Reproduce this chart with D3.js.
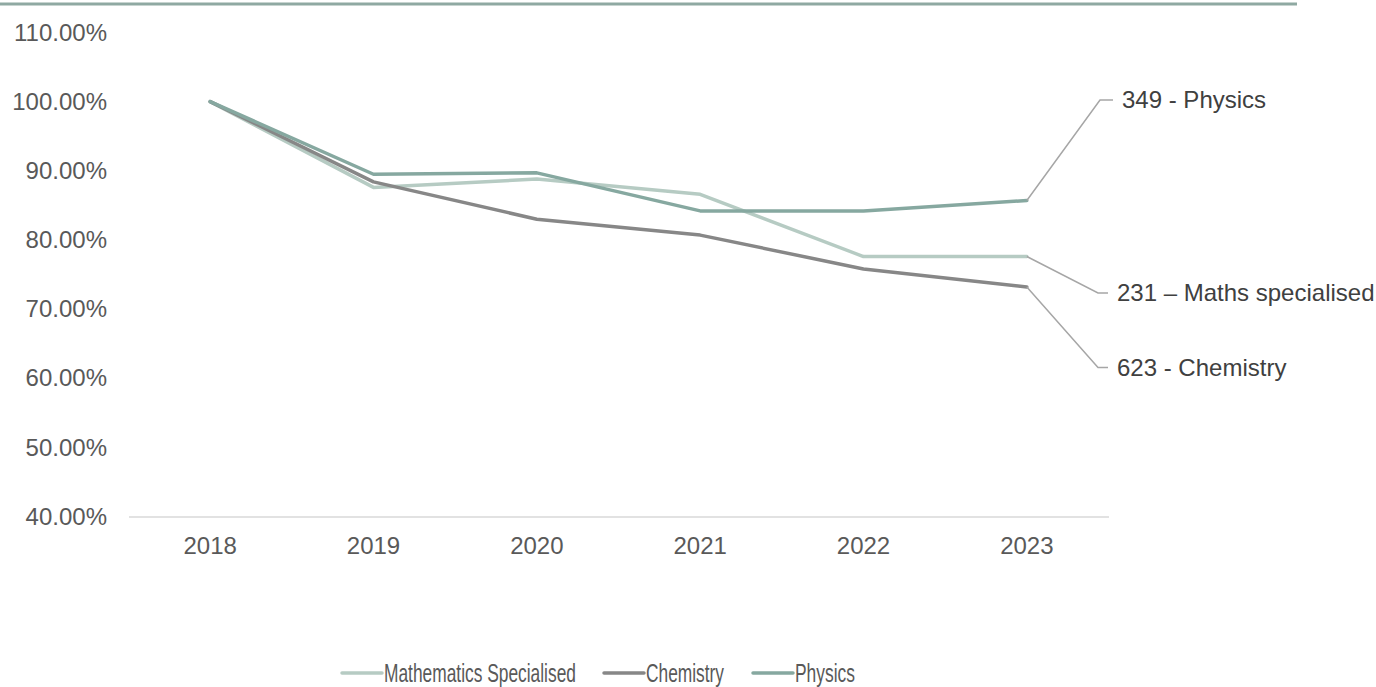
<!DOCTYPE html>
<html>
<head>
<meta charset="utf-8">
<script src="https://cdn.jsdelivr.net/npm/d3@7"></script>
<style>
  html, body { margin: 0; padding: 0; background: #fff; }
  svg { display: block; font-family: "Liberation Sans", Arial, sans-serif; }
</style>
</head>
<body>
<svg id="chart" width="1376" height="687"></svg>
<script>
const years = ["2018", "2019", "2020", "2021", "2022", "2023"];
const seriesNames = ["Mathematics Specialised", "Chemistry", "Physics"];
const mathsValues = [100.0, 87.6, 88.8, 86.6, 77.6, 77.6];
const chemistryValues = [100.0, 88.4, 83.0, 80.7, 75.8, 73.2];
const physicsValues = [100.0, 89.5, 89.7, 84.2, 84.2, 85.7];
const yTicks = [40, 50, 60, 70, 80, 90, 100, 110];
const endLabels = ["231 – Maths specialised", "623 - Chemistry", "349 - Physics"];
const colors = ["#b6cbc3", "#878787", "#86a8a0"];

const series = [mathsValues, chemistryValues, physicsValues];

const svg = d3.select("#chart");
const x = d3.scaleBand().domain(years).range([128.5, 1108.5]);
const y = d3.scaleLinear().domain([40, 110]).range([516.5, 32.5]);
const cx = d => x(d) + x.bandwidth() / 2;

// top rule
svg.append("line").attr("x1", 0).attr("x2", 1297).attr("y1", 4).attr("y2", 4)
  .attr("stroke", "#8fa9a2").attr("stroke-width", 3);

// y axis labels
const yAxis = d3.axisLeft(y).tickValues(yTicks).tickSize(0).tickPadding(0)
  .tickFormat(d => d.toFixed(2) + "%");
const yg = svg.append("g").attr("transform", "translate(107,0)").call(yAxis);
yg.select(".domain").remove();
yg.selectAll("text").attr("font-size", 24).attr("fill", "#595959")
  .attr("font-family", "Liberation Sans, Arial, sans-serif");

// x axis
const xAxis = d3.axisBottom(x).tickSize(0).tickPadding(20);
const xg = svg.append("g").attr("transform", "translate(0,516.5)").call(xAxis);
xg.select(".domain").attr("stroke", "#d9d9d9").attr("stroke-width", 1.5);
xg.selectAll("text").attr("font-size", 24).attr("fill", "#595959")
  .attr("font-family", "Liberation Sans, Arial, sans-serif");

// lines
const line = d3.line().x((d, i) => cx(years[i])).y(d => y(d));
series.forEach((vals, i) => {
  svg.append("path").datum(vals).attr("d", line)
    .attr("fill", "none").attr("stroke", colors[i]).attr("stroke-width", 3.5)
    .attr("stroke-linejoin", "round").attr("stroke-linecap", "round");
});

// end labels with leader lines
const labelY = [293, 367.5, 100];
const elbowX = [1098, 1098, 1100];
const endX = [1108, 1108, 1113];
const textX = [1117, 1117, 1122];
series.forEach((vals, i) => {
  const last = years.length - 1;
  const x0 = cx(years[last]), y0 = y(vals[last]);
  svg.append("polyline")
    .attr("points", [[x0, y0], [elbowX[i], labelY[i]], [endX[i], labelY[i]]].map(p => p.join(",")).join(" "))
    .attr("fill", "none").attr("stroke", "#a6a6a6").attr("stroke-width", 1.5);
  svg.append("text").attr("x", textX[i]).attr("y", labelY[i]).attr("dy", "0.35em")
    .attr("font-size", 24).attr("fill", "#404040").text(endLabels[i]);
});

// legend
const legX = [342, 604, 753];
const legW = [192, 78, 60];
const legY = 673;
seriesNames.forEach((name, i) => {
  svg.append("line").attr("x1", legX[i]).attr("x2", legX[i] + 40)
    .attr("y1", legY).attr("y2", legY)
    .attr("stroke", colors[i]).attr("stroke-width", 3.5).attr("stroke-linecap", "round");
  const g = svg.append("g");
  const t = g.append("text").attr("x", 0).attr("y", 0).attr("dy", "0.35em")
    .attr("font-size", 25).attr("fill", "#595959").text(name);
  const w = t.node().getComputedTextLength();
  const sx = legW[i] / w;
  g.attr("transform", `translate(${legX[i] + 42},${legY}) scale(${sx},1)`);
});
</script>
</body>
</html>
